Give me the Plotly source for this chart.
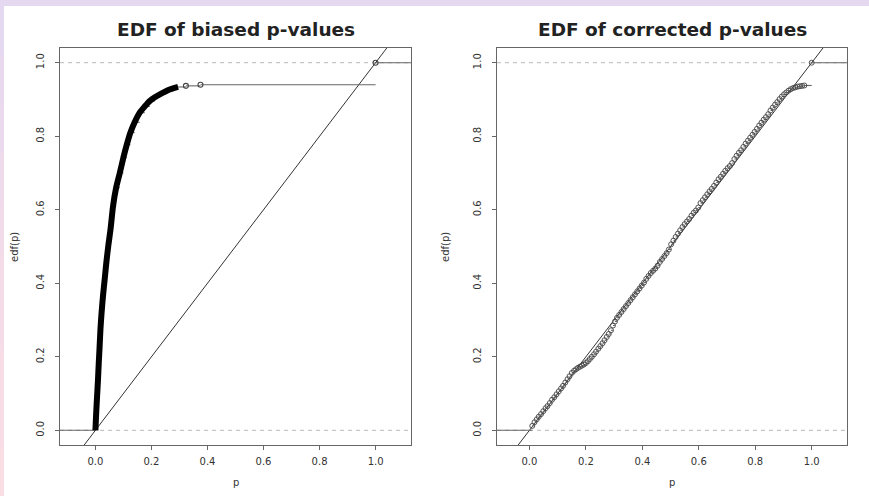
import plotly.graph_objects as go
from plotly.subplots import make_subplots

# ---------------- data ----------------
titles = ["EDF of biased p-values", "EDF of corrected p-values"]
x_ticks = [0.0, 0.2, 0.4, 0.6, 0.8, 1.0]
x_tick_labels = ["0.0", "0.2", "0.4", "0.6", "0.8", "1.0"]
y_ticks = [0.0, 0.2, 0.4, 0.6, 0.8, 1.0]
y_tick_labels = ["0.0", "0.2", "0.4", "0.6", "0.8", "1.0"]

# left panel: dense part of the EDF (appears as a thick black curve)
biased_p = [0.000, 0.003, 0.006, 0.009, 0.012, 0.015, 0.018, 0.022, 0.027, 0.033,
            0.039, 0.046, 0.054, 0.063, 0.074, 0.087, 0.100, 0.112, 0.125, 0.140,
            0.158, 0.176, 0.194, 0.212, 0.230, 0.248, 0.265, 0.280, 0.295]
biased_edf = [0.000, 0.050, 0.093, 0.135, 0.184, 0.228, 0.275, 0.320, 0.365, 0.410,
              0.456, 0.502, 0.547, 0.610, 0.660, 0.700, 0.742, 0.777, 0.810, 0.838,
              0.864, 0.881, 0.896, 0.906, 0.914, 0.921, 0.927, 0.931, 0.934]
# left panel: isolated jumps after the dense part
biased_tail_p = [0.323, 0.375, 1.000]
biased_tail_edf = [0.937, 0.940, 1.000]

# right panel: EDF of corrected p-values
corr_p = [0.010, 0.018, 0.026, 0.033, 0.041, 0.049, 0.057, 0.064, 0.072, 0.080,
          0.088, 0.096, 0.104, 0.112, 0.119, 0.127, 0.135, 0.142, 0.150,
          0.158, 0.165, 0.172, 0.179, 0.186, 0.193, 0.200, 0.207,
          0.214, 0.221, 0.229, 0.236, 0.244, 0.251, 0.259, 0.266, 0.274, 0.281,
          0.289, 0.296, 0.303, 0.310,
          0.318, 0.326, 0.334, 0.342, 0.350, 0.358, 0.366, 0.374, 0.382, 0.390,
          0.398, 0.406, 0.414, 0.422, 0.430, 0.438, 0.446, 0.454, 0.462, 0.470,
          0.478, 0.486, 0.494,
          0.502, 0.510, 0.518, 0.526, 0.534, 0.542, 0.550, 0.558, 0.566, 0.574,
          0.582, 0.590, 0.598, 0.606, 0.614, 0.622, 0.630, 0.638, 0.646, 0.654,
          0.662, 0.670, 0.678, 0.686, 0.694, 0.702, 0.710, 0.718, 0.726, 0.734,
          0.742, 0.750, 0.758, 0.766, 0.774, 0.782, 0.790, 0.798, 0.806, 0.814,
          0.822, 0.830, 0.838, 0.846, 0.854, 0.862, 0.870, 0.878, 0.886, 0.894,
          0.902, 0.910, 0.918, 0.926, 0.934, 0.942, 0.950, 0.958, 0.966, 0.974,
          1.000]
corr_edf = [0.012, 0.022, 0.030, 0.037, 0.044, 0.052, 0.060, 0.066, 0.074, 0.083,
            0.090, 0.098, 0.106, 0.114, 0.121, 0.130, 0.139, 0.147, 0.156,
            0.162, 0.166, 0.170, 0.173, 0.176, 0.179, 0.183, 0.188,
            0.194, 0.200, 0.207, 0.214, 0.222, 0.229, 0.237, 0.245, 0.254, 0.262,
            0.272, 0.285, 0.296, 0.306,
            0.314, 0.322, 0.330, 0.338, 0.346, 0.354, 0.362, 0.370, 0.378, 0.386,
            0.394, 0.402, 0.412, 0.420, 0.428, 0.434, 0.440, 0.448, 0.458, 0.466,
            0.474, 0.482, 0.492,
            0.506, 0.516, 0.526, 0.535, 0.544, 0.553, 0.561, 0.568, 0.575, 0.584,
            0.592, 0.598, 0.606, 0.618, 0.626, 0.634, 0.642, 0.650, 0.657, 0.665,
            0.674, 0.683, 0.690, 0.698, 0.706, 0.713, 0.719, 0.727, 0.738, 0.747,
            0.755, 0.762, 0.771, 0.780, 0.788, 0.796, 0.804, 0.812, 0.820, 0.829,
            0.837, 0.845, 0.852, 0.860, 0.870, 0.878, 0.886, 0.893, 0.901, 0.908,
            0.914, 0.919, 0.924, 0.928, 0.931, 0.933, 0.935, 0.936, 0.937, 0.938,
            1.000]

left_xrange = [-0.1264, 1.1264]
right_xrange = [-0.115, 1.125]
y_range = [-0.04, 1.04]

# ---------------- figure ----------------
W, H = 869, 496
ML, MR, MT, MB = 60, 22, 48, 51
PW, PH = W - ML - MR, H - MT - MB


def fx(px):
    return (px - ML) / PW


def fy(py):
    return (H - MB - py) / PH


fig = make_subplots(rows=1, cols=2, horizontal_spacing=0.02)
fig.update_layout(xaxis=dict(domain=[0, fx(411)]), xaxis2=dict(domain=[fx(497), 1]))

FONT = "DejaVu Sans"
DARK = "#333333"
AX = "#666666"


def step_segments(px_list, py_list, xmin, xmax):
    xs, ys = [xmin, px_list[0], None], [0, 0, None]
    for i in range(len(px_list)):
        x_end = px_list[i + 1] if i + 1 < len(px_list) else xmax
        xs += [px_list[i], x_end, None]
        ys += [py_list[i], py_list[i], None]
    return xs, ys


panels = [
    (1, left_xrange, biased_p + biased_tail_p, biased_edf + biased_tail_edf),
    (2, right_xrange, corr_p, corr_edf),
]

for col, xr, kp, ke in panels:
    # reference lines at 0 and 1
    for lvl in (0.0, 1.0):
        fig.add_trace(go.Scatter(x=xr, y=[lvl, lvl], mode="lines",
                                 line=dict(color="#bbbbbb", width=1, dash="4px,4px"),
                                 hoverinfo="skip", showlegend=False), row=1, col=col)
    # diagonal
    fig.add_trace(go.Scatter(x=[y_range[0], y_range[1] + 0.1], y=[y_range[0], y_range[1] + 0.1],
                             mode="lines", line=dict(color=DARK, width=1),
                             hoverinfo="skip", showlegend=False), row=1, col=col)
    # step segments
    sx, sy = step_segments(kp, ke, xr[0], xr[1])
    fig.add_trace(go.Scatter(x=sx, y=sy, mode="lines",
                             line=dict(color="#666666", width=1.1),
                             hoverinfo="skip", showlegend=False), row=1, col=col)

# left dense EDF: thick curve of overlapping circles
fig.add_trace(go.Scatter(x=biased_p, y=biased_edf, mode="lines",
                         line=dict(color="black", width=6, shape="spline", smoothing=0.8),
                         hoverinfo="skip", showlegend=False), row=1, col=1)
fig.add_trace(go.Scatter(x=biased_tail_p, y=biased_tail_edf, mode="markers",
                         marker=dict(symbol="circle-open", size=5, color="#444444",
                                     line=dict(width=1.1)),
                         hoverinfo="skip", showlegend=False), row=1, col=1)
fig.add_trace(go.Scatter(x=corr_p, y=corr_edf, mode="markers",
                         marker=dict(symbol="circle-open", size=5, color="#444444",
                                     line=dict(width=0.9)),
                         hoverinfo="skip", showlegend=False), row=1, col=2)

axis_common = dict(showgrid=False, zeroline=False, showline=True, linecolor=AX,
                   linewidth=1, mirror=True, ticks="outside", ticklen=4,
                   tickcolor=AX, tickfont=dict(family=FONT, size=10, color=DARK))
for col, xr in ((1, left_xrange), (2, right_xrange)):
    fig.update_xaxes(range=xr, tickvals=x_ticks, ticktext=x_tick_labels,
                     ticklabelstandoff=3, **axis_common, row=1, col=col)
    fig.update_yaxes(range=y_range, tickvals=y_ticks, ticktext=y_tick_labels,
                     tickangle=-90, ticklabelstandoff=7, **axis_common, row=1, col=col)

# background: lavender frame with a white page
shapes = [dict(type="rect", xref="paper", yref="paper", x0=fx(4), x1=fx(W + 2),
               y0=fy(H + 2), y1=fy(6), fillcolor="white", line=dict(width=0),
               layer="below")]
band_cols = ["#e5d9f1", "#e8d9ef", "#ebdaed", "#eedaeb", "#f1dbea", "#f4dbe8",
             "#f6dce7", "#f8dce6", "#f9dde6", "#fadde5"]
nb = len(band_cols)
for i, c in enumerate(band_cols):
    shapes.append(dict(type="rect", xref="paper", yref="paper", x0=fx(-1), x1=fx(4),
                       y0=fy(6 + (H - 6) * (i + 1) / nb + 1), y1=fy(6 + (H - 6) * i / nb),
                       fillcolor=c, line=dict(width=0), layer="below"))

annotations = []
for i, (cx, ax_x) in enumerate(((235.5, 15), (672, 446))):
    annotations.append(dict(text="<b>%s</b>" % titles[i], xref="paper", yref="paper",
                            x=fx(cx), y=fy(29), xanchor="center", yanchor="middle",
                            showarrow=False, font=dict(family=FONT, size=18.5, color="#222222")))
    annotations.append(dict(text="edf(p)", xref="paper", yref="paper", x=fx(ax_x), y=fy(247),
                            xanchor="center", yanchor="middle", textangle=-90, showarrow=False,
                            font=dict(family=FONT, size=10, color=DARK)))
    annotations.append(dict(text="p", xref="paper", yref="paper", x=fx(cx), y=fy(482),
                            xanchor="center", yanchor="middle", showarrow=False,
                            font=dict(family=FONT, size=10, color=DARK)))

fig.update_layout(width=W, height=H, margin=dict(l=ML, r=MR, t=MT, b=MB),
                  paper_bgcolor="#e5d9f1", plot_bgcolor="white",
                  shapes=shapes, annotations=annotations, showlegend=False)

fig.write_html("out.html")
